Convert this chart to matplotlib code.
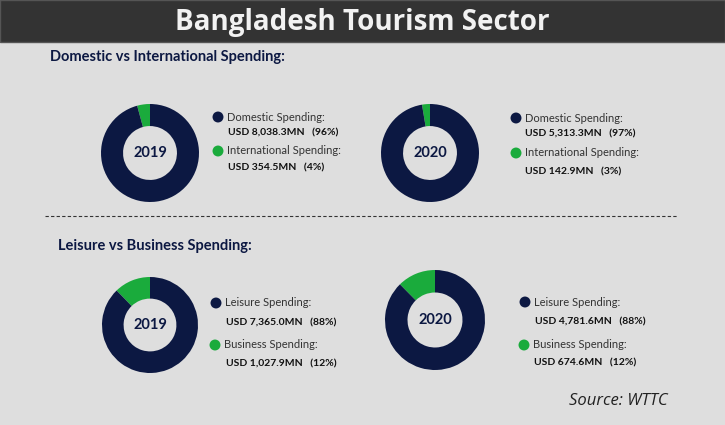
import numpy as np
import matplotlib.pyplot as plt
from matplotlib.patches import Rectangle

W, H = 725, 425
NAVY = '#0c1842'
GREEN = '#1aab3c'
BG = '#dedede'

title = 'Bangladesh Tourism Sector'
sections = ['Domestic vs International Spending:', 'Leisure vs Business Spending:']
years = ['2019', '2020']

# domestic / international (USD MN)
domestic = [8038.3, 5313.3]
international = [354.5, 142.9]
dom_pct = ['96%', '97%']
int_pct = ['4%', '3%']

# leisure / business (USD MN)
leisure = [7365.0, 4781.6]
business = [1027.9, 674.6]
lei_pct = ['88%', '88%']
bus_pct = ['12%', '12%']

source = 'Source: WTTC'

fig = plt.figure(figsize=(W / 100, H / 100), dpi=100)
fig.patch.set_facecolor(BG)

# background axes in pixel coords (y down)
bg = fig.add_axes([0, 0, 1, 1])
bg.set_xlim(0, W)
bg.set_ylim(H, 0)
bg.axis('off')

bg.add_patch(Rectangle((0, 0), W, 42, facecolor='#333333', edgecolor='#555555', lw=1))
bg.text(W / 2, 22, title, color='#f2f2f2', fontsize=20, fontweight='bold',
        family='Open Sans', ha='center', va='center')

bg.text(50, 57, sections[0], color=NAVY, fontsize=10.5, fontweight='bold',
        family='Lato', ha='left', va='center')
bg.text(58, 246, sections[1], color=NAVY, fontsize=10.5, fontweight='bold',
        family='Lato', ha='left', va='center')

# dashed divider
bg.plot([45, 678], [216, 216], color='#333333', lw=0.8, ls=(0, (3, 2)))


def donut(cx, cy, r, big, small, year):
    ax = fig.add_axes([(cx - r) / W, 1 - (cy + r) / H, 2 * r / W, 2 * r / H])
    ax.pie([small, big], colors=[GREEN, NAVY], startangle=90, counterclock=True,
           wedgeprops=dict(width=0.45, edgecolor='none'))
    ax.set_xlim(-1, 1)
    ax.set_ylim(-1, 1)
    ax.text(0, 0, year, color=NAVY, fontsize=10.5, fontweight='bold', family='Lato',
            ha='center', va='center')


def legend(dx, ys, label, value, pct, color):
    y_dot, y_val, vx = ys
    bg.scatter([dx], [y_dot], s=62, color=color, edgecolors='none')
    bg.text(dx + 9, y_dot, label, color='#333333', fontsize=8, family='Lato',
            ha='left', va='center')
    bg.text(vx, y_val, 'USD {:,.1f}MN   ({})'.format(value, pct), color='#111111',
            fontsize=7.5, fontweight='bold', family='Lato', ha='left', va='center')


# top row
donut(150, 153, 49, domestic[0], international[0], years[0])
legend(218, (117, 133, 228), 'Domestic Spending:', domestic[0], dom_pct[0], NAVY)
legend(218, (151, 168, 228), 'International Spending:', international[0], int_pct[0], GREEN)

donut(430, 153, 49, domestic[1], international[1], years[1])
legend(516, (118, 134, 525), 'Domestic Spending:', domestic[1], dom_pct[1], NAVY)
legend(516, (153, 172, 525), 'International Spending:', international[1], int_pct[1], GREEN)

# bottom row
donut(150, 325, 48, leisure[0], business[0], years[0])
legend(216, (303, 323, 226), 'Leisure Spending:', leisure[0], lei_pct[0], NAVY)
legend(215, (345, 364, 226), 'Business Spending:', business[0], bus_pct[0], GREEN)

donut(435, 320, 50, leisure[1], business[1], years[1])
legend(525, (302, 322, 535), 'Leisure Spending:', leisure[1], lei_pct[1], NAVY)
legend(524, (345, 363, 534), 'Business Spending:', business[1], bus_pct[1], GREEN)

bg.text(668, 401, source, color='#222222', fontsize=12, style='italic',
        family='Open Sans', ha='right', va='center')

fig.savefig('out.png', dpi=100, facecolor=BG)
